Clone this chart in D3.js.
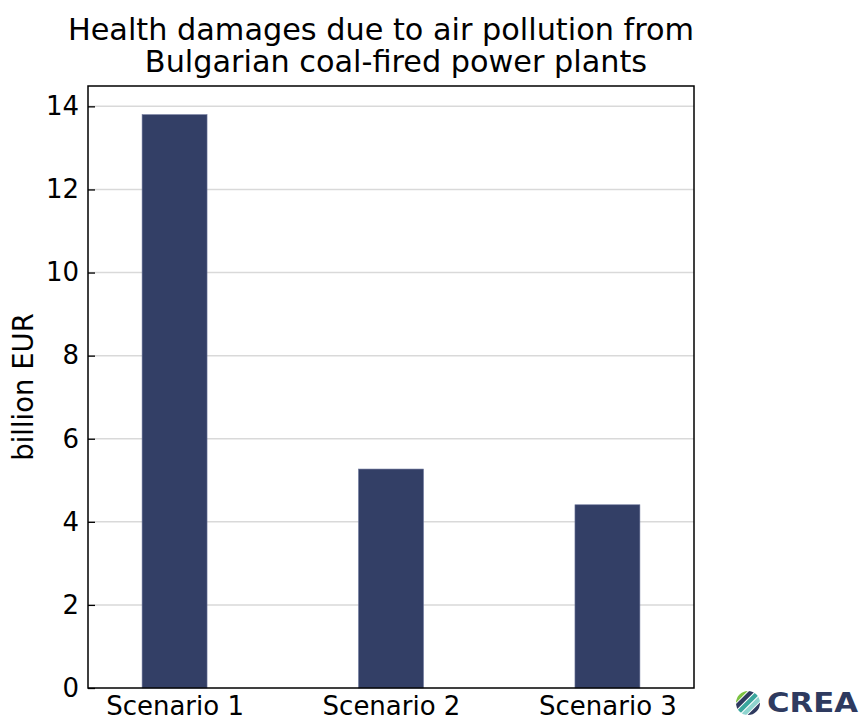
<!DOCTYPE html>
<html>
<head>
<meta charset="utf-8">
<script src="https://cdn.jsdelivr.net/npm/d3@7"></script>
<style>
  html, body { margin: 0; padding: 0; background: #fff; }
  svg { display: block; font-family: "DejaVu Sans", sans-serif; }
</style>
</head>
<body>
<svg id="chart" width="863" height="719"></svg>
<script>
// ---- data ----
const categories = ["Scenario 1", "Scenario 2", "Scenario 3"];
const values = [13.8, 5.27, 4.41];
const yTicks = [0, 2, 4, 6, 8, 10, 12, 14];
const titleLines = ["Health damages due to air pollution from", "Bulgarian coal-fired power plants"];
const yLabel = "billion EUR";

// ---- layout ----
const svg = d3.select("#chart");
const plot = { left: 88, right: 694, top: 86, bottom: 688 };
const barColor = "#333f66";

const x = d3.scaleLinear().domain([-0.4, categories.length - 0.6]).range([plot.left, plot.right]);
const y = d3.scaleLinear().domain([0, d3.max(values) * 1.05]).range([plot.bottom, plot.top]);
const barW = 0.3;

// gridlines
svg.append("g")
  .selectAll("line")
  .data(yTicks.filter(d => d > 0))
  .join("line")
  .attr("x1", plot.left).attr("x2", plot.right)
  .attr("y1", d => y(d)).attr("y2", d => y(d))
  .attr("stroke", "#d9d9d9").attr("stroke-width", 1.5);

// bars
svg.append("g")
  .selectAll("rect")
  .data(values)
  .join("rect")
  .attr("x", (d, i) => x(i - barW / 2))
  .attr("width", (d, i) => x(i + barW / 2) - x(i - barW / 2))
  .attr("y", d => y(d))
  .attr("height", d => y(0) - y(d))
  .attr("fill", barColor)
  .attr("stroke", "#6a7399").attr("stroke-width", 0.6);

// y axis (ticks inward)
const yAxis = d3.axisLeft(y).tickValues(yTicks).tickFormat(d3.format("d")).tickSizeInner(-7).tickSizeOuter(0).tickPadding(9);
const gy = svg.append("g").attr("transform", `translate(${plot.left},0)`).call(yAxis);
gy.select(".domain").remove();
gy.selectAll(".tick line").attr("stroke", "#000").attr("stroke-width", 1.3);
gy.selectAll(".tick text").attr("font-size", 26).attr("fill", "#000")
  .attr("font-family", "DejaVu Sans");

// x axis labels
const xAxis = d3.axisBottom(x).tickValues(d3.range(categories.length)).tickFormat(i => categories[i]).tickSize(0).tickPadding(9);
const gx = svg.append("g").attr("transform", `translate(0,${plot.bottom})`).call(xAxis);
gx.select(".domain").remove();
gx.selectAll(".tick text").attr("font-size", 26).attr("fill", "#000")
  .attr("font-family", "DejaVu Sans");

// frame
svg.append("rect")
  .attr("x", plot.left).attr("y", plot.top)
  .attr("width", plot.right - plot.left).attr("height", plot.bottom - plot.top)
  .attr("fill", "none").attr("stroke", "#000").attr("stroke-width", 1.5);

// title
const titleCenters = [381, 396];
svg.append("g").selectAll("text")
  .data(titleLines)
  .join("text")
  .attr("x", (d, i) => titleCenters[i])
  .attr("y", (d, i) => 40 + i * 32)
  .attr("text-anchor", "middle")
  .attr("font-size", 30.3)
  .attr("fill", "#000")
  .text(d => d);

// y label
svg.append("text")
  .attr("transform", `translate(33,${(plot.top + plot.bottom) / 2}) rotate(-90)`)
  .attr("text-anchor", "middle")
  .attr("font-size", 27.5)
  .attr("fill", "#000")
  .text(yLabel);

// CREA logo
const logo = svg.append("g").attr("transform", "translate(748,703)");
const clipId = "logoClip";
svg.append("defs").append("clipPath").attr("id", clipId)
  .append("circle").attr("r", 12);
const stripes = logo.append("g").attr("clip-path", `url(#${clipId})`).attr("transform", "rotate(-45)");
const stripeColors = ["#7cc242", "#2e3a5f", "#3aa69d", "#8fd4cf", "#2e3a5f"];
stripeColors.forEach((c, i) => {
  stripes.append("rect").attr("x", -14).attr("y", -13 + i * 5.3).attr("width", 28).attr("height", 4.3).attr("fill", c);
});
svg.append("text")
  .attr("x", 767).attr("y", 712)
  .attr("font-size", 26).attr("font-weight", "bold")
  .attr("font-family", "DejaVu Sans")
  .attr("fill", "#2e3a5f")
  .attr("textLength", 91).attr("lengthAdjust", "spacingAndGlyphs")
  .text("CREA");
</script>
</body>
</html>
